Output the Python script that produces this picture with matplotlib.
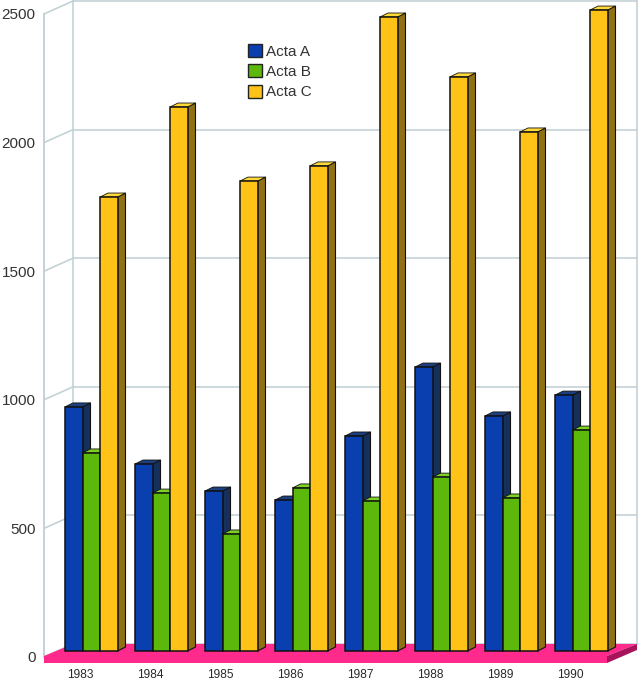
import numpy as np
from matplotlib import pyplot as plt
from matplotlib.patches import Patch, Polygon

plt.rcParams['font.family'] = ['Liberation Sans', 'DejaVu Sans']

years = ["1983", "1984", "1985", "1986", "1987", "1988", "1989", "1990"]
acta_a = [949, 727, 622, 587, 836, 1104, 914, 995]
acta_b = [770, 614, 455, 634, 583, 676, 595, 859]
acta_c = [1765, 2115, 1827, 1886, 2465, 2232, 2018, 2492]
y_ticks = [0, 500, 1000, 1500, 2000, 2500]

W, H = 640, 685
px_per_unit = 0.2572
bottom_px = 663
zero_px = 657


def dy(px):
  return px / px_per_unit


def box(ax, x, w, base, top, front, side, roof, dx=8, lift=4):
  # side and roof first, the front bar goes over them
  d = dy(lift)
  ax.add_patch(Polygon([(x + w, base), (x + w + dx, base + d), (x + w + dx, top + d), (x + w, top)],
                       fc=side, ec="#111111", lw=0.8))
  ax.add_patch(Polygon([(x, top), (x + dx, top + d), (x + w + dx, top + d), (x + w, top)],
                       fc=roof, ec="#111111", lw=0.6))
  ax.bar(x, top - base, w, bottom=base, align="edge", color=front, edgecolor="#111111", linewidth=1.1)


fig = plt.figure(figsize=(W / 100, H / 100), dpi=100)
ax = fig.add_axes([44 / W, (H - bottom_px) / H, (W - 44) / W, bottom_px / H])
ax.set_xlim(44, W)
ax.set_ylim(-dy(bottom_px - zero_px), dy(zero_px))
for s in ax.spines.values():
  s.set_visible(False)

# walls
wall = "#c4d2d6"
back_x, back_lift = 73, dy(13)
for v in y_ticks:
  ax.plot([44, back_x], [v, v + back_lift], color=wall, lw=1.2, clip_on=False, zorder=1)
  ax.plot([back_x, 637], [v + back_lift, v + back_lift], color=wall, lw=1.2, clip_on=False, zorder=1)
ax.plot([44, 44], [0, y_ticks[-1]], color=wall, lw=1.4, clip_on=False, zorder=1)
ax.plot([back_x, back_x], [back_lift, y_ticks[-1] + back_lift], color=wall, lw=1.2, clip_on=False, zorder=1)
ax.plot([637, 637], [back_lift, y_ticks[-1] + back_lift], color=wall, lw=1.2, clip_on=False, zorder=1)

# floor
f_top, f_bot = dy(1), -dy(6)
ax.add_patch(Polygon([(44, f_top), (back_x, back_lift), (637, back_lift), (607, f_top)], fc="#ff2a8c", ec="none"))
ax.add_patch(Polygon([(44, f_top), (607, f_top), (607, f_bot), (44, f_bot)], fc="#ff2a8c", ec="none"))
ax.add_patch(Polygon([(607, f_top), (637, back_lift), (637, back_lift - dy(6)), (607, f_bot)], fc="#a8145c", ec="none"))

# bars
bar_w = 17.5
base = dy(6)
x0 = 65 + 70 * np.arange(len(years))
for i in range(len(years)):
  box(ax, x0[i], bar_w, base, base + acta_a[i], "#0a3fb0", "#16305c", "#1c3f80")
  box(ax, x0[i] + bar_w, bar_w, base, base + acta_b[i], "#5cb80a", "#3d6e0a", "#7fd024")
  box(ax, x0[i] + 2 * bar_w, bar_w, base, base + acta_c[i], "#ffc216", "#8f7012", "#ffd83a")

ax.set_xticks(x0 + 15, years)
ax.set_yticks(y_ticks, [str(v) for v in y_ticks])
ax.tick_params(axis="x", length=0, pad=4, labelsize=8.6, labelcolor="#2a2a2a")
ax.tick_params(axis="y", length=0, pad=6, labelsize=11, labelcolor="#333333")

handles = [Patch(fc="#0a3fb0", ec="#222222", label="Acta A"),
           Patch(fc="#5cb80a", ec="#222222", label="Acta B"),
           Patch(fc="#ffc216", ec="#222222", label="Acta C")]
leg = ax.legend(handles=handles, loc="upper left", bbox_to_anchor=((248 - 44) / (W - 44), 1 - 44 / bottom_px),
                frameon=False, fontsize=11, handlelength=0.9, handleheight=0.9, handletextpad=0.3,
                labelspacing=0.38, borderpad=0, borderaxespad=0, labelcolor="#333333")
leg.set_zorder(20)

plt.savefig("out.png", dpi=100)
